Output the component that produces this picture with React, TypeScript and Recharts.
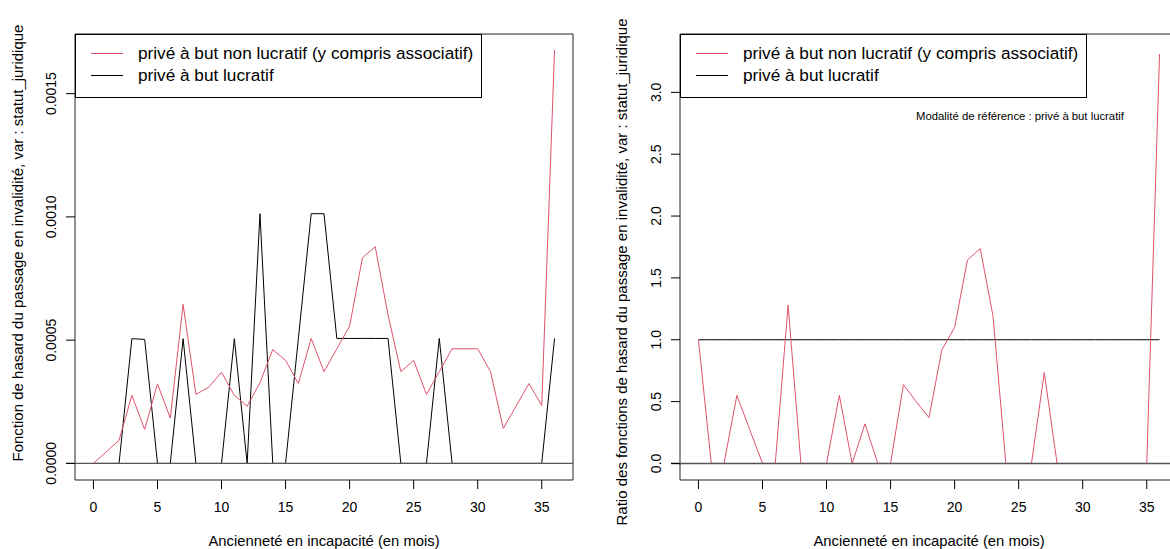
import React from 'react';
import { LineChart, Line, XAxis, YAxis, ReferenceLine, ReferenceArea } from 'recharts';

// months since incapacity (x axis)
const months = [
  0, 1, 2, 3, 4, 5, 6, 7, 8, 9, 10, 11, 12, 13, 14, 15, 16, 17, 18,
  19, 20, 21, 22, 23, 24, 25, 26, 27, 28, 29, 30, 31, 32, 33, 34, 35, 36,
];

// hazard, privé à but non lucratif
const hazardNonLucratif = [
  0, 0.000047, 0.000094, 0.000276, 0.000138, 0.000323, 0.000184, 0.000645, 0.00028,
  0.000309, 0.00037, 0.000276, 0.000232, 0.000327, 0.000462, 0.000418, 0.000324,
  0.000507, 0.000372, 0.000465, 0.000557, 0.000834, 0.000879, 0.000603, 0.000372,
  0.000418, 0.00028, 0.000372, 0.000465, 0.000465, 0.000465, 0.000372, 0.000142,
  0.000233, 0.000324, 0.000235, 0.001677,
];

// hazard, privé à but lucratif
const hazardLucratif = [
  0, 0, 0, 0.000506, 0.000503, 0, 0, 0.000506, 0, 0, 0, 0.000506, 0, 0.001013, 0, 0,
  0.000507, 0.001013, 0.001013, 0.000507, 0.000507, 0.000507, 0.000507, 0.000507, 0,
  0, 0, 0.000507, 0, 0, 0, 0, 0, 0, 0, 0, 0.000507,
];

// ratio vs reference (privé à but lucratif)
const ratioNonLucratif = [
  1.0, 0, 0, 0.55, 0.275, 0, 0, 1.28, 0, 0, 0, 0.55, 0, 0.32, 0, 0, 0.637, 0.5, 0.37,
  0.917, 1.1, 1.645, 1.737, 1.19, 0, 0, 0, 0.734, 0, 0, 0, 0, 0, 0, 0, 0, 3.31,
];
const ratioLucratif = months.map(() => 1);

const xTicks = [0, 5, 10, 15, 20, 25, 30, 35];
const leftYTicks = [0, 0.0005, 0.001, 0.0015];
const rightYTicks = [0, 0.5, 1, 1.5, 2, 2.5, 3];

const legendLabels = ['privé à but non lucratif (y compris associatif)', 'privé à but lucratif'];
const xTitle = 'Ancienneté en incapacité (en mois)';
const leftYTitle = 'Fonction de hasard du passage en invalidité, var : statut_juridique';
const rightYTitle = 'Ratio des fonctions de hasard du passage en invalidité, var : statut_juridique';
const refNote = 'Modalité de référence : privé à but lucratif';

const RED = '#DF536B';
const FONT = '"Liberation Sans", Arial, sans-serif';
const X_DOMAIN: [number, number] = [-1.44, 37.44];
const LEFT_Y_DOMAIN: [number, number] = [-0.0000673, 0.001742];
const RIGHT_Y_DOMAIN: [number, number] = [-0.134, 3.472];

const leftData = months.map((m, i) => ({ month: m, a: hazardNonLucratif[i], b: hazardLucratif[i] }));
const rightData = months.map((m, i) => ({ month: m, a: ratioNonLucratif[i], b: ratioLucratif[i] }));

const makeYTick = (digits: number) => (props: any) => {
  const { x, y, payload } = props;
  const bx = x - 3;
  return (
    <text
      x={bx}
      y={y}
      transform={`rotate(-90, ${bx}, ${y})`}
      textAnchor="middle"
      fontSize={14}
      fontFamily={FONT}
      fill="#000"
    >
      {Number(payload.value).toFixed(digits)}
    </text>
  );
};

const Legend = ({ left }: { left: number }) => (
  <div
    style={{
      position: 'absolute', left, top: 34, width: 405, height: 62,
      border: '1px solid #000', background: '#fff', fontFamily: FONT, fontSize: 17.2,
    }}
  >
    {legendLabels.map((lab, i) => (
      <div key={lab} style={{ position: 'absolute', left: 0, top: 8 + i * 22, height: 22, width: 405 }}>
        <div style={{ position: 'absolute', left: 15, top: 10, width: 32, height: 1, background: i === 0 ? RED : '#000' }} />
        <span style={{ position: 'absolute', left: 62, top: 0, lineHeight: '20px', whiteSpace: 'nowrap' }}>{lab}</span>
      </div>
    ))}
  </div>
);

const Panel = ({ data, yDomain, yTicks, digits }: any) => (
  <LineChart width={590} height={549} data={data} margin={{ top: 34, right: 17, bottom: 29, left: 0 }}>
    <ReferenceArea
      x1={X_DOMAIN[0]} x2={X_DOMAIN[1]} y1={yDomain[0]} y2={yDomain[1]}
      fill="none" stroke="#222" strokeWidth={1} fillOpacity={0} ifOverflow="visible"
    />
    <XAxis
      type="number" dataKey="month" domain={X_DOMAIN} ticks={xTicks} allowDataOverflow
      interval={0} height={40} axisLine={false} tickSize={9} tickMargin={13}
      tickLine={{ stroke: '#000' }} tick={{ fill: '#000', fontSize: 14, fontFamily: FONT }}
    />
    <YAxis
      type="number" domain={yDomain} ticks={yTicks} allowDataOverflow width={75}
      axisLine={false} tickSize={9} tickMargin={7} tickLine={{ stroke: '#000' }}
      tick={makeYTick(digits)}
    />
    <Line type="linear" dataKey="b" stroke="#000" strokeWidth={1} dot={false} isAnimationActive={false} />
    <Line type="linear" dataKey="a" stroke={RED} strokeWidth={1} dot={false} isAnimationActive={false} />
    <ReferenceLine
      segment={[{ x: -2.14, y: 0 }, { x: X_DOMAIN[1], y: 0 }]}
      stroke="#555" strokeWidth={1.4} ifOverflow="visible"
    />
  </LineChart>
);

const rotated = (cx: number, cy: number, text: string) => (
  <div
    style={{
      position: 'absolute', left: cx, top: cy, transform: 'translate(-50%, -50%) rotate(-90deg)',
      whiteSpace: 'nowrap', fontFamily: FONT, fontSize: 15, color: '#000',
    }}
  >
    {text}
  </div>
);

const centered = (cx: number, cy: number, text: string, size: number) => (
  <div
    style={{
      position: 'absolute', left: cx, top: cy, transform: 'translate(-50%, -50%)',
      whiteSpace: 'nowrap', fontFamily: FONT, fontSize: size, color: '#000',
    }}
  >
    {text}
  </div>
);

export default function App() {
  return (
    <div style={{ position: 'absolute', left: 0, top: 0, width: 1170, height: 549, overflow: 'hidden', background: '#fff' }}>
      <div style={{ position: 'absolute', left: 0, top: 0 }}>
        <Panel data={leftData} yDomain={LEFT_Y_DOMAIN} yTicks={leftYTicks} digits={4} />
      </div>
      <div style={{ position: 'absolute', left: 605, top: 0 }}>
        <Panel data={rightData} yDomain={RIGHT_Y_DOMAIN} yTicks={rightYTicks} digits={1} />
      </div>
      <Legend left={75} />
      <Legend left={680} />
      {rotated(17, 243, leftYTitle)}
      {rotated(621, 272, rightYTitle)}
      {centered(324, 541, xTitle, 14.8)}
      {centered(929, 541, xTitle, 14.8)}
      {centered(1020, 116, refNote, 11.3)}
    </div>
  );
}
